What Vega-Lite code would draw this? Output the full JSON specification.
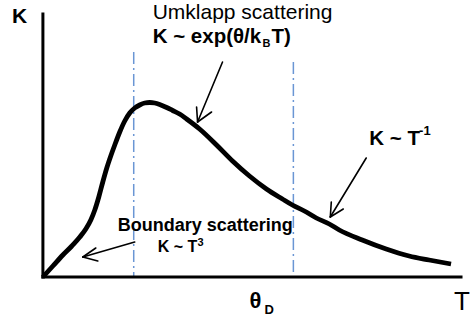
{
  "$schema": "https://vega.github.io/schema/vega-lite/v6.json",
  "width": 470,
  "height": 320,
  "autosize": {"type": "fit", "contains": "padding"},
  "padding": 0,
  "background": "white",
  "config": {"view": {"stroke": null}},
  "datasets": {
    "curve": [
      {"x": 43, "y": 43}, {"x": 53, "y": 54}, {"x": 63, "y": 65}, {"x": 72, "y": 74},
      {"x": 80, "y": 83}, {"x": 86, "y": 91}, {"x": 91, "y": 100}, {"x": 95, "y": 110},
      {"x": 99, "y": 123}, {"x": 103, "y": 138}, {"x": 107, "y": 152}, {"x": 111, "y": 164},
      {"x": 115, "y": 175}, {"x": 120, "y": 188}, {"x": 125, "y": 199}, {"x": 130, "y": 207},
      {"x": 135, "y": 212}, {"x": 140, "y": 215}, {"x": 145, "y": 217}, {"x": 150, "y": 217.5},
      {"x": 155, "y": 217}, {"x": 160, "y": 215.5}, {"x": 167, "y": 212.5}, {"x": 173, "y": 209.5},
      {"x": 180, "y": 206}, {"x": 187, "y": 201}, {"x": 200, "y": 191}, {"x": 217, "y": 175},
      {"x": 233, "y": 159}, {"x": 250, "y": 144}, {"x": 267, "y": 131}, {"x": 283, "y": 121},
      {"x": 293, "y": 115}, {"x": 305, "y": 109}, {"x": 317, "y": 102}, {"x": 330, "y": 96},
      {"x": 340, "y": 90}, {"x": 363, "y": 80}, {"x": 387, "y": 71}, {"x": 410, "y": 64},
      {"x": 430, "y": 60}, {"x": 452, "y": 56}
    ],
    "axes": [
      {"x": 43, "y": 306, "x2": 43, "y2": 43},
      {"x": 43, "y": 43, "x2": 462, "y2": 43}
    ],
    "guides": [
      {"x": 134, "y": 268, "x2": 134, "y2": 43},
      {"x": 294, "y": 258, "x2": 294, "y2": 43}
    ],
    "arrows": [
      {"x": 223, "y": 258, "x2": 198, "y2": 198},
      {"x": 197, "y": 213, "x2": 198, "y2": 198},
      {"x": 212, "y": 208, "x2": 198, "y2": 198},
      {"x": 367, "y": 162, "x2": 331, "y2": 103},
      {"x": 332, "y": 118, "x2": 331, "y2": 103},
      {"x": 344, "y": 111, "x2": 331, "y2": 103},
      {"x": 135, "y": 78, "x2": 83, "y2": 63},
      {"x": 96, "y": 72, "x2": 83, "y2": 63},
      {"x": 98, "y": 59, "x2": 83, "y2": 63}
    ],
    "axisK": [{"x": 12, "y": 297, "label": "K"}],
    "axisT": [{"x": 455, "y": 10, "label": "T"}],
    "theta": [{"x": 250, "y": 12, "label": "θ"}],
    "umklapp": [{"x": 153, "y": 301, "label": "Umklapp scattering"}],
    "formula20": [
      {"x": 153, "y": 277, "label": "K ~ exp(θ/k"},
      {"x": 272, "y": 277, "label": "T)"},
      {"x": 370, "y": 175.5, "label": "K ~ T"}
    ],
    "boundary": [{"x": 118, "y": 89, "label": "Boundary scattering"}],
    "formula16": [{"x": 158, "y": 68, "label": "K ~ T"}],
    "small11": [
      {"x": 263, "y": 273, "label": "B"},
      {"x": 198, "y": 74, "label": "3"}
    ],
    "small13": [
      {"x": 420, "y": 185, "label": "-1"},
      {"x": 265, "y": 6, "label": "D"}
    ]
  },
  "encoding": {
    "x": {"field": "x", "type": "quantitative", "scale": {"domain": [0, 470], "nice": false, "zero": false}, "axis": null},
    "y": {"field": "y", "type": "quantitative", "scale": {"domain": [0, 320], "nice": false, "zero": false}, "axis": null}
  },
  "layer": [
    {
      "data": {"name": "guides"},
      "mark": {"type": "rule", "color": "#6a96d4", "strokeWidth": 1.5, "strokeDash": [12, 4, 2, 4]},
      "encoding": {"x2": {"field": "x2"}, "y2": {"field": "y2"}}
    },
    {
      "data": {"name": "axes"},
      "mark": {"type": "rule", "color": "black", "strokeWidth": 3, "strokeCap": "square"},
      "encoding": {"x2": {"field": "x2"}, "y2": {"field": "y2"}}
    },
    {
      "data": {"name": "curve"},
      "mark": {"type": "line", "color": "black", "strokeWidth": 4.8, "interpolate": "monotone", "strokeCap": "butt"},
      "encoding": {"order": {"field": "x", "type": "quantitative"}}
    },
    {
      "data": {"name": "arrows"},
      "mark": {"type": "rule", "color": "black", "strokeWidth": 1.6, "strokeCap": "round"},
      "encoding": {"x2": {"field": "x2"}, "y2": {"field": "y2"}}
    },
    {
      "data": {"name": "axisK"},
      "mark": {"type": "text", "font": "Liberation Sans", "fontWeight": "bold", "fontSize": 21, "align": "left", "baseline": "alphabetic", "color": "black"},
      "encoding": {"text": {"field": "label"}}
    },
    {
      "data": {"name": "axisT"},
      "mark": {"type": "text", "font": "Liberation Sans", "fontSize": 26, "align": "left", "baseline": "alphabetic", "color": "black"},
      "encoding": {"text": {"field": "label"}}
    },
    {
      "data": {"name": "theta"},
      "mark": {"type": "text", "font": "Liberation Sans", "fontWeight": "bold", "fontSize": 22, "align": "left", "baseline": "alphabetic", "color": "black"},
      "encoding": {"text": {"field": "label"}}
    },
    {
      "data": {"name": "umklapp"},
      "mark": {"type": "text", "font": "Liberation Sans", "fontSize": 21, "align": "left", "baseline": "alphabetic", "color": "black"},
      "encoding": {"text": {"field": "label"}}
    },
    {
      "data": {"name": "formula20"},
      "mark": {"type": "text", "font": "Liberation Sans", "fontWeight": "bold", "fontSize": 20.5, "align": "left", "baseline": "alphabetic", "color": "black"},
      "encoding": {"text": {"field": "label"}}
    },
    {
      "data": {"name": "boundary"},
      "mark": {"type": "text", "font": "Liberation Sans", "fontWeight": "bold", "fontSize": 18, "align": "left", "baseline": "alphabetic", "color": "black"},
      "encoding": {"text": {"field": "label"}}
    },
    {
      "data": {"name": "formula16"},
      "mark": {"type": "text", "font": "Liberation Sans", "fontWeight": "bold", "fontSize": 16, "align": "left", "baseline": "alphabetic", "color": "black"},
      "encoding": {"text": {"field": "label"}}
    },
    {
      "data": {"name": "small11"},
      "mark": {"type": "text", "font": "Liberation Sans", "fontWeight": "bold", "fontSize": 11, "align": "left", "baseline": "alphabetic", "color": "black"},
      "encoding": {"text": {"field": "label"}}
    },
    {
      "data": {"name": "small13"},
      "mark": {"type": "text", "font": "Liberation Sans", "fontWeight": "bold", "fontSize": 13, "align": "left", "baseline": "alphabetic", "color": "black"},
      "encoding": {"text": {"field": "label"}}
    }
  ]
}
